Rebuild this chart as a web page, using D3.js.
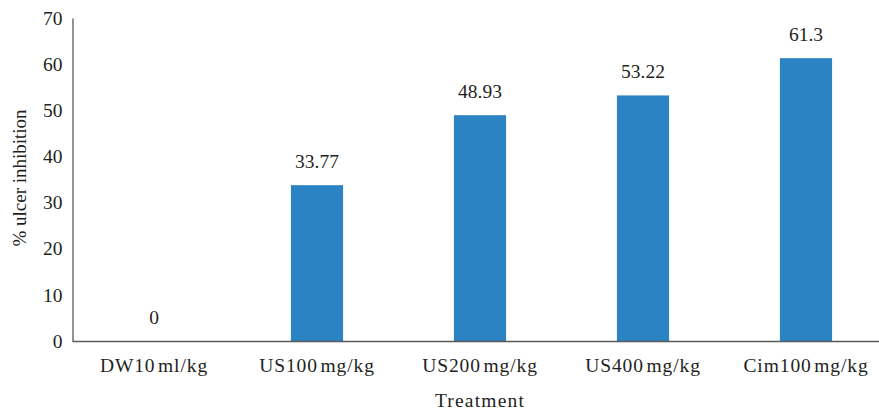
<!DOCTYPE html>
<html><head><meta charset="utf-8">
<script src="https://cdn.jsdelivr.net/npm/d3@7"></script>
<style>
html,body{margin:0;padding:0;background:#fff;overflow:hidden;}
svg text{font-family:"Liberation Serif","Times New Roman","DejaVu Serif",serif !important;fill:#231f20;}
</style></head>
<body>
<svg id="chart" width="879" height="413"></svg>
<script>
const categories = ["DW10\u200Aml/kg","US100\u200Amg/kg","US200\u200Amg/kg","US400\u200Amg/kg","Cim100\u200Amg/kg"];
const values = [0, 33.77, 48.93, 53.22, 61.3];
const valueLabels = ["0","33.77","48.93","53.22","61.3"];
const yTicks = [0,10,20,30,40,50,60,70];

(function(){
const svg = d3.select("#chart");
const W = 879, H = 413;
const mLeft = 72.5, mTop = 18, mBottom = 341;

const x = d3.scaleBand().domain(categories).range([mLeft, 887.5]).paddingInner(0.68).paddingOuter(0.34);
const y = d3.scaleLinear().domain([0,70]).range([mBottom, mTop]);

svg.append("g").selectAll("rect").data(values).join("rect")
  .attr("x",(d,i)=>x(categories[i]))
  .attr("width",x.bandwidth())
  .attr("y",d=>y(d))
  .attr("height",d=>y(0)-y(d))
  .attr("fill","#2c83c3");

const yAxis = svg.append("g").attr("transform",`translate(${mLeft},0)`)
  .call(d3.axisLeft(y).tickValues(yTicks).tickSize(0).tickPadding(10));
yAxis.attr("font-family",null).attr("font-size",null);
yAxis.select(".domain").attr("stroke","#5a5a5a").attr("stroke-width",1.3);
yAxis.selectAll("text").style("font-size","19.5px").attr("fill","#231f20");

const xAxis = svg.append("g").attr("transform",`translate(0,${mBottom})`)
  .call(d3.axisBottom(x).tickSize(0).tickPadding(17));
xAxis.attr("font-family",null).attr("font-size",null);
xAxis.select(".domain").attr("d",`M${mLeft},0.5H${W}`).attr("stroke","#5a5a5a").attr("stroke-width",1.3);
xAxis.selectAll("text").style("font-size","19.5px")
  .style("letter-spacing","0.9px").attr("fill","#231f20");

svg.append("g").selectAll("text").data(values).join("text")
  .attr("x",(d,i)=>x(categories[i])+x.bandwidth()/2)
  .attr("y",d=>y(d)-17)
  .attr("text-anchor","middle")
  .style("font-size","19.5px")
  .text((d,i)=>valueLabels[i]);

svg.append("text").attr("x",480).attr("y",407).attr("text-anchor","middle")
  .style("font-size","19.5px").style("letter-spacing","1.2px").text("Treatment");
svg.append("text").attr("transform","translate(26,178) rotate(-90)").attr("text-anchor","middle")
  .style("font-size","19px").text("% ulcer inhibition");
})();
</script>
</body></html>
